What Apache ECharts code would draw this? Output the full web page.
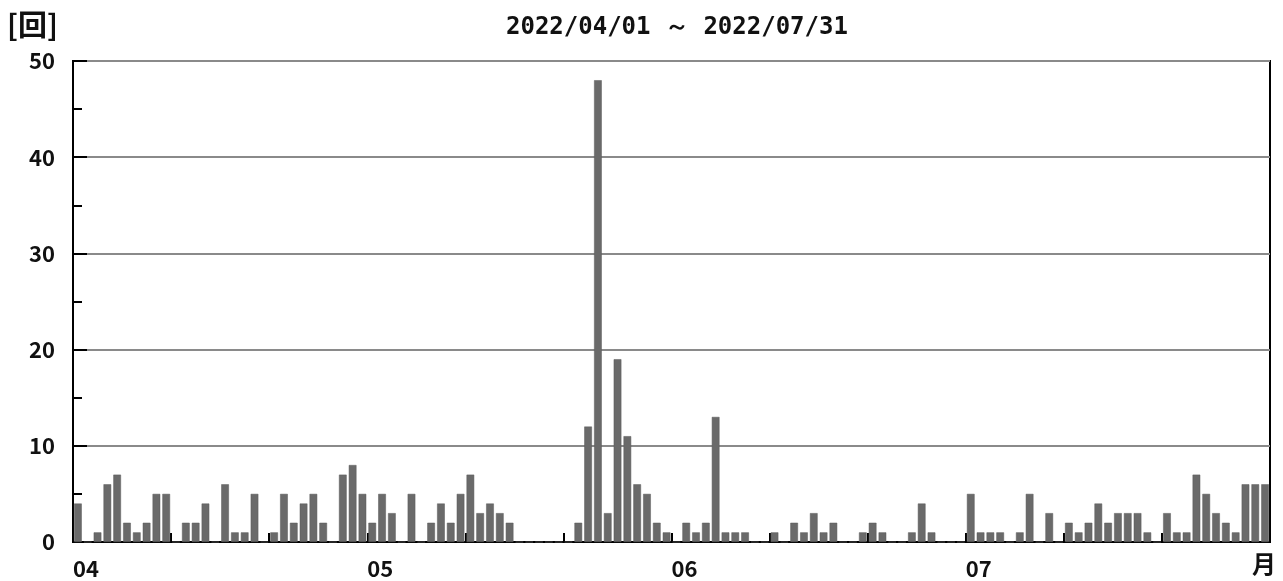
<!DOCTYPE html>
<html>
<head>
<meta charset="utf-8">
<script src="https://cdn.jsdelivr.net/npm/echarts@6/dist/echarts.min.js"></script>
<style>
  html, body { margin: 0; padding: 0; background: #fff; }
  #main { width: 1283px; height: 581px; }
</style>
</head>
<body>
<div id="main"></div>
<script>
// 日別の回数 (2022/04/01 ～ 2022/07/31)
var aprilCounts = [4, 0, 1, 6, 7, 2, 1, 2, 5, 5, 0, 2, 2, 4, 0, 6, 1, 1, 5, 0, 1, 5, 2, 4, 5, 2, 0, 7, 8, 5];
var mayCounts = [2, 5, 3, 0, 5, 0, 2, 4, 2, 5, 7, 3, 4, 3, 2, 0, 0, 0, 0, 0, 0, 2, 12, 48, 3, 19, 11, 6, 5, 2, 1];
var juneCounts = [0, 2, 1, 2, 13, 1, 1, 1, 0, 0, 1, 0, 2, 1, 3, 1, 2, 0, 0, 1, 2, 1, 0, 0, 1, 4, 1, 0, 0, 0];
var julyCounts = [5, 1, 1, 1, 0, 1, 5, 0, 3, 0, 2, 1, 2, 4, 2, 3, 3, 3, 1, 0, 3, 1, 1, 7, 5, 3, 2, 1, 6, 6, 6];

var monthLabels = ['04', '05', '06', '07'];
var monthData = [aprilCounts, mayCounts, juneCounts, julyCounts];
var yTicks = [0, 10, 20, 30, 40, 50];
var tickDays = [1, 11, 21];

// カテゴリ (月/日) と値をまとめる
var days = [];
var dayNums = [];
var counts = [];
monthData.forEach(function (arr, m) {
    arr.forEach(function (v, d) {
        days.push(monthLabels[m] + '/' + (d + 1));
        dayNums.push(d + 1);
        counts.push(v);
    });
});

var myChart = echarts.init(document.getElementById('main'));

var option = {
    animation: false,
    title: [{
        text: '2022/04/01 ～ 2022/07/31',
        left: 501,
        top: 11,
        textStyle: {
            fontFamily: 'DejaVu Sans Mono',
            fontSize: 24,
            fontWeight: 'bold',
            color: '#111'
        }
    }, {
        text: '[回]',
        left: 2,
        top: 5,
        textStyle: {
            fontFamily: 'Noto Sans CJK JP',
            fontSize: 29,
            fontWeight: 'bold',
            color: '#111'
        }
    }],
    grid: {
        left: 73,
        right: 13,
        top: 61,
        bottom: 39,
        show: true,
        borderColor: '#000',
        borderWidth: 2,
        containLabel: false
    },
    xAxis: {
        type: 'category',
        data: days,
        boundaryGap: true,
        name: '月',
        nameLocation: 'end',
        nameGap: -6,
        nameTextStyle: {
            fontFamily: 'Noto Sans CJK JP',
            fontSize: 24,
            fontWeight: 'bold',
            color: '#111',
            align: 'center',
            verticalAlign: 'top',
            padding: [10, 0, 0, 0]
        },
        axisLine: { show: true, lineStyle: { color: '#000', width: 2 } },
        axisTick: {
            show: true,
            inside: true,
            length: 9,
            lineStyle: { color: '#000', width: 2 },
            interval: function (index) {
                return tickDays.indexOf(dayNums[index]) >= 0;
            }
        },
        axisLabel: {
            interval: function (index) {
                return dayNums[index] === 1;
            },
            formatter: function (value) {
                return value.split('/')[0];
            },
            align: 'left',
            margin: 16,
            padding: [0, 0, 0, -5],
            fontFamily: 'Noto Sans CJK JP',
            fontSize: 22,
            fontWeight: 'bold',
            color: '#111'
        },
        splitLine: { show: false }
    },
    yAxis: {
        type: 'value',
        min: yTicks[0],
        max: yTicks[yTicks.length - 1],
        interval: 10,
        axisLine: { show: true, lineStyle: { color: '#000', width: 2 } },
        axisTick: {
            show: true,
            inside: true,
            length: 14,
            lineStyle: { color: '#000', width: 2 }
        },
        minorTick: {
            show: true,
            splitNumber: 2,
            length: 9,
            lineStyle: { color: '#000', width: 2 }
        },
        axisLabel: {
            margin: 18,
            fontFamily: 'Noto Sans CJK JP',
            fontSize: 22,
            fontWeight: 'bold',
            color: '#111'
        },
        splitLine: {
            show: true,
            lineStyle: { color: '#8a8a8a', width: 2 }
        }
    },
    series: [{
        name: '回数',
        type: 'bar',
        data: counts,
        barCategoryGap: '22%',
        itemStyle: {
            color: '#6a6a6a',
            borderColor: '#5a5a5a',
            borderWidth: 0.5
        }
    }]
};

myChart.setOption(option);
</script>
</body>
</html>
